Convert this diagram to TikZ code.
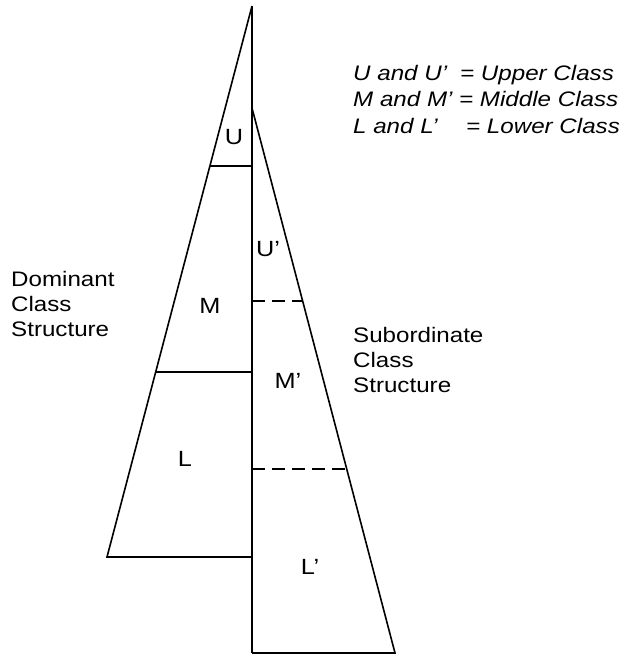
\documentclass[tikz,border=0pt]{standalone}
\usepackage{fontspec}
\setmainfont{Liberation Sans}[FakeStretch=1.15]
\begin{document}
\begin{tikzpicture}[x=1pt,y=-1pt,
  edge/.style={line width=1.6pt, line join=miter},
  divider/.style={line width=1.3pt},
  dashdiv/.style={line width=2.8pt, dash pattern=on 13pt off 7pt},
  lbl/.style={font=\fontsize{22}{24}\selectfont, inner sep=0pt, anchor=base},
  side/.style={font=\fontsize{21}{25}\selectfont, inner sep=0pt, align=left, anchor=base west},
  leg/.style={font=\fontsize{21}{24}\selectfont\itshape, inner sep=0pt, anchor=base west}]
\useasboundingbox (0,0) rectangle (623,654);
% key points
\coordinate (top) at (252,6);
\coordinate (bot) at (252,653);
\coordinate (lbase) at (107,557);
\coordinate (lbaseR) at (252,557);
\coordinate (rtop) at (252,108);
\coordinate (rbase) at (395,653);
\coordinate (uL) at (210,166);
\coordinate (uR) at (252,166);
\coordinate (mL) at (156,372);
\coordinate (mR) at (252,372);
\coordinate (d1L) at (252,301);
\coordinate (d1R) at (302,301);
\coordinate (d2L) at (252,469);
\coordinate (d2R) at (347,469);
% shapes
\draw[edge] (top) -- (bot);
\draw[edge] (top) -- (lbase) -- (lbaseR);
\draw[edge] (rtop) -- (rbase) -- (bot);
\draw[divider] (uL) -- (uR);
\draw[divider] (mL) -- (mR);
\draw[dashdiv] (d1L) -- (d1R);
\draw[dashdiv] (d2L) -- (d2R);
% labels
\node[lbl] (U) at (234,144) {U};
\node[lbl] (Up) at (268,256) {U’};
\node[lbl] (M) at (210,313) {M};
\node[lbl] (Mp) at (288,388) {M’};
\node[lbl] (L) at (185,466) {L};
\node[lbl] (Lp) at (310,574) {L’};
\node[side] (dom) at (11,336) {Dominant\\Class\\Structure};
\node[side] (sub) at (353,392) {Subordinate\\Class\\Structure};
% legend
\node[leg] (l1a) at (353,80) {U and U’};
\node[leg] (l1b) at (460,80) {= Upper Class};
\node[leg] (l2a) at (353,106.5) {M and M’};
\node[leg] (l2b) at (459,106.5) {= Middle Class};
\node[leg] (l3a) at (353,133) {L and L’};
\node[leg] (l3b) at (466,133) {= Lower Class};
\end{tikzpicture}
\end{document}
